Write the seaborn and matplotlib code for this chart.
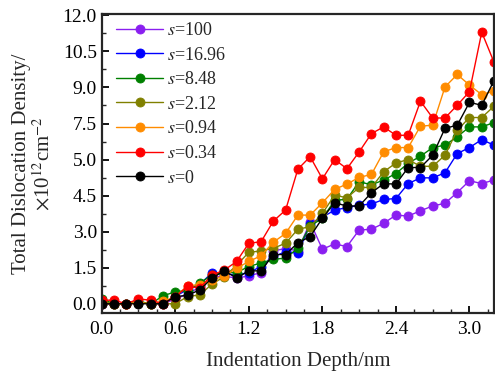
import numpy as np
import pandas as pd
import matplotlib
matplotlib.use("Agg")
import matplotlib.pyplot as plt
import matplotlib.transforms as mtransforms
import seaborn as sns
from matplotlib.ticker import MultipleLocator

# indentation depth (nm)
depth = [0.0, 0.1, 0.2, 0.3, 0.4, 0.5, 0.6, 0.7, 0.8, 0.9, 1.0,
         1.1, 1.2, 1.3, 1.4, 1.5, 1.6, 1.7, 1.8, 1.9, 2.0,
         2.1, 2.2, 2.3, 2.4, 2.5, 2.6, 2.7, 2.8, 2.9, 3.0, 3.1, 3.2]

# total dislocation density (x10^12 cm^-2)
s_100 = [0.0, 0.0, 0.0, 0.05, 0.0, 0.0, 0.2, 0.4, 0.7, 1.1, 1.15,
         1.07, 1.16, 1.3, 2.2, 2.3, 2.2, 3.4, 2.27, 2.49, 2.38,
         3.07, 3.1, 3.35, 3.69, 3.65, 3.87, 4.07, 4.18, 4.63, 5.12, 5.0, 5.15]
s_1696 = [0.0, 0.0, 0.0, 0.05, 0.0, 0.05, 0.3, 0.6, 0.8, 1.3, 1.25,
          1.2, 1.3, 1.55, 1.95, 2.17, 2.1, 3.3, 3.6, 3.9, 4.0,
          4.1, 4.15, 4.34, 4.38, 5.0, 5.24, 5.24, 5.45, 6.25, 6.5, 6.83, 6.6]
s_848 = [0.2, 0.0, 0.0, 0.1, 0.0, 0.33, 0.5, 0.55, 0.86, 1.2, 1.3,
         1.3, 1.55, 1.7, 1.85, 1.9, 2.31, 3.24, 3.55, 4.3, 4.35,
         5.08, 4.95, 5.15, 5.42, 5.85, 6.14, 6.5, 6.6, 6.95, 7.36, 7.36, 7.54]
s_212 = [0.1, 0.0, 0.0, 0.05, 0.0, 0.0, 0.0, 0.3, 0.37, 0.82, 1.13,
         1.6, 2.14, 2.2, 2.31, 2.52, 3.1, 3.21, 3.76, 4.52, 4.41,
         4.84, 4.84, 5.49, 5.86, 6.0, 5.72, 5.72, 6.18, 7.22, 7.75, 7.75, 8.22]
s_094 = [0.0, 0.0, 0.0, 0.05, 0.0, 0.1, 0.3, 0.75, 0.8, 1.0, 1.15,
         1.48, 1.76, 2.0, 2.56, 2.93, 3.69, 3.69, 4.2, 4.76, 4.98,
         5.26, 5.38, 6.32, 6.5, 6.5, 7.39, 7.43, 9.02, 9.54, 9.1, 8.7, 8.85]
s_034 = [0.15, 0.15, 0.0, 0.2, 0.15, 0.0, 0.3, 0.72, 0.66, 1.2, 1.4,
         1.76, 2.52, 2.58, 3.44, 3.9, 5.6, 6.12, 5.2, 6.0, 5.62,
         6.32, 7.08, 7.36, 7.01, 7.01, 8.43, 7.73, 7.73, 8.26, 8.83, 11.3, 10.05]
s_0 = [0.0, 0.0, 0.0, 0.0, 0.0, 0.0, 0.3, 0.35, 0.58, 1.07, 1.37,
       1.07, 1.37, 1.37, 2.05, 2.05, 2.54, 2.79, 3.56, 4.2, 4.07,
       4.07, 4.62, 5.0, 4.98, 5.67, 5.67, 6.18, 7.3, 7.43, 8.38, 8.26, 9.29]

labels = ["100", "16.96", "8.48", "2.12", "0.94", "0.34", "0"]
series = [s_100, s_1696, s_848, s_212, s_094, s_034, s_0]
colors = ["#8a1ff0", "#0000ff", "#008000", "#808000", "#ff8c00", "#ff0000", "#000000"]

ytick_vals = [0.0, 1.5, 3.0, 4.5, 6.0, 7.5, 9.0, 10.5, 12.0]
ytick_text = ["0.0", "1.5", "3.0", "4.5", "5.0", "7.5", "9.0", "10.5", "12.0"]

sns.set_theme(style="ticks", rc={"xtick.direction": "in", "ytick.direction": "in",
                                 "axes.linewidth": 1.6,
                                 "xtick.major.width": 1.3, "ytick.major.width": 1.3,
                                 "xtick.minor.width": 1.0, "ytick.minor.width": 1.0,
                                 "xtick.major.size": 5, "ytick.major.size": 5,
                                 "xtick.minor.size": 3, "ytick.minor.size": 3})
plt.rcParams["font.family"] = ["Liberation Serif", "DejaVu Serif"]
plt.rcParams["mathtext.fontset"] = "stix"

fig = plt.figure(figsize=(4.95, 3.83), dpi=100)
ax = fig.add_axes([0.2055, 0.183, 0.7925, 0.780])

# small offset for the glossy highlight on the ball markers
shine = ax.transData + mtransforms.ScaledTranslation(-1.2 / 72, 1.2 / 72, fig.dpi_scale_trans)

for name, vals, col in zip(labels, series, colors):
    df = pd.DataFrame({"depth": depth, "rho": vals})
    sns.lineplot(data=df, x="depth", y="rho", ax=ax, color=col, lw=1.0,
                 marker="o", markersize=6.5, markeredgewidth=0.6,
                 markeredgecolor=col, sort=False, estimator=None,
                 label=r"$\it{s}$=" + name)
    sns.scatterplot(data=df, x="depth", y="rho", ax=ax, color="white", s=4,
                    alpha=0.7, linewidth=0, transform=shine, legend=False)

ax.set_xlim(0, 3.2)
ax.set_ylim(-0.38, 12.05)
ax.set_xticks([0.0, 0.6, 1.2, 1.8, 2.4, 3.0])
ax.set_xticklabels(["0.0", "0.6", "1.2", "1.8", "2.4", "3.0"])
ax.xaxis.set_minor_locator(MultipleLocator(0.15))
ax.set_yticks(ytick_vals)
ax.set_yticklabels(ytick_text)
ax.yaxis.set_minor_locator(MultipleLocator(0.75))
ax.tick_params(labelsize=14, colors="black")
ax.tick_params(axis="x", pad=6)
ax.set_xlabel("Indentation Depth/nm", fontsize=15, labelpad=10)
ax.set_ylabel("Total Dislocation Density/\n" + r"$\times$10$^{12}$cm$^{-2}$",
              fontsize=15, linespacing=1.1, labelpad=6)

leg = ax.legend(loc="upper left", frameon=False, fontsize=13, handlelength=2.6,
                handletextpad=0.2, labelspacing=0.42, borderaxespad=0.2,
                bbox_to_anchor=(0.01, 1.01))

fig.savefig("out.png", dpi=100)
